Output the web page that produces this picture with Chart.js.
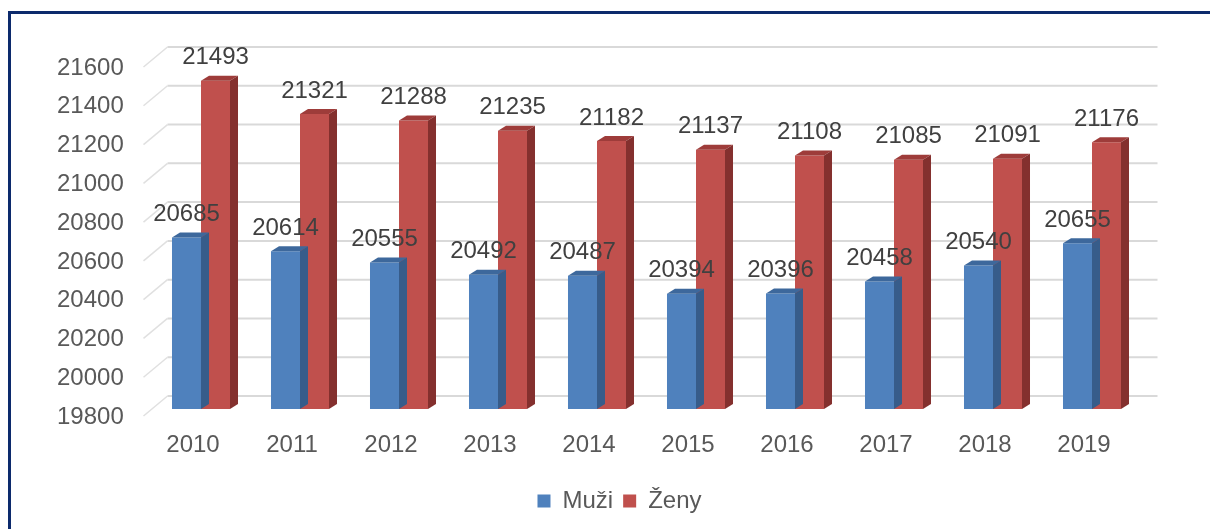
<!DOCTYPE html>
<html>
<head>
<meta charset="utf-8">
<title>Muži a ženy 2010-2019</title>
<script src="https://cdn.jsdelivr.net/npm/chart.js@4.4.1/dist/chart.umd.min.js"></script>
<style>
  body { margin: 0; background: #fff; }
  #wrap { position: relative; width: 1210px; height: 529px; overflow: hidden; }
  #frame {
    position: absolute; left: 8px; top: 11px; width: 1300px; height: 600px;
    border-left: 3px solid #0c2a6c; border-top: 3px solid #0c2a6c;
    pointer-events: none;
  }
  canvas { position: absolute; left: 0; top: 0; }
</style>
</head>
<body>
<div id="wrap">
  <canvas id="chart" width="1210" height="529"></canvas>
  <div id="frame"></div>
</div>
<script>
// data
const years = ['2010', '2011', '2012', '2013', '2014', '2015', '2016', '2017', '2018', '2019'];
const muzi = [20685, 20614, 20555, 20492, 20487, 20394, 20396, 20458, 20540, 20655];
const zeny = [21493, 21321, 21288, 21235, 21182, 21137, 21108, 21085, 21091, 21176];
const yTicks = [19800, 20000, 20200, 20400, 20600, 20800, 21000, 21200, 21400, 21600];

const FONT = 'Liberation Sans, Arial, sans-serif';

// fake 3d depth of a bar and of the back wall
const DX = 8, DY = -5;
const WALL_DX = 16, WALL_DY = -13;
const FRONT_DX = -8, FRONT_DY = 7;

const faces = [
    { front: '#4f81bd', top: '#3d689c', side: '#375c8a' },
    { front: '#c0504d', top: '#9e3c3a', side: '#84302e' }
];

function poly(ctx, pts, color) {
    ctx.beginPath();
    ctx.moveTo(pts[0][0], pts[0][1]);
    for (let i = 1; i < pts.length; i++) ctx.lineTo(pts[i][0], pts[i][1]);
    ctx.closePath();
    ctx.fillStyle = color;
    ctx.fill();
}

const bar3d = {
    id: 'bar3d',
    beforeDatasetsDraw(chart) {
        const ctx = chart.ctx;
        const area = chart.chartArea;
        const y = chart.scales.y;
        ctx.save();
        yTicks.forEach(v => {
            const py = y.getPixelForValue(v);
            // back wall line
            ctx.strokeStyle = '#d9d9d9';
            ctx.lineWidth = 2;
            ctx.beginPath();
            ctx.moveTo(area.left + WALL_DX, py + WALL_DY);
            ctx.lineTo(area.right + WALL_DX, py + WALL_DY);
            ctx.stroke();
            // side wall line
            ctx.strokeStyle = '#e0e0e0';
            ctx.lineWidth = 1.5;
            ctx.beginPath();
            ctx.moveTo(area.left + FRONT_DX, py + FRONT_DY);
            ctx.lineTo(area.left + WALL_DX, py + WALL_DY);
            ctx.stroke();
        });
        ctx.restore();
    },
    afterDatasetDraw(chart, args) {
        const ctx = chart.ctx;
        const f = faces[args.index];
        const bottom = chart.chartArea.bottom;
        ctx.save();
        args.meta.data.forEach(bar => {
            const p = bar.getProps(['x', 'y', 'width'], true);
            const l = p.x - p.width / 2, r = p.x + p.width / 2;
            poly(ctx, [[l, p.y], [l + DX, p.y + DY], [r + DX, p.y + DY], [r, p.y]], f.top);
            poly(ctx, [[r, p.y], [r + DX, p.y + DY], [r + DX, bottom + DY], [r, bottom]], f.side);
        });
        ctx.restore();
    },
    afterDatasetsDraw(chart) {
        // value labels above the bars
        const ctx = chart.ctx;
        ctx.save();
        ctx.font = '24px ' + FONT;
        ctx.fillStyle = '#404040';
        ctx.textAlign = 'center';
        ctx.textBaseline = 'middle';
        chart.data.datasets.forEach((ds, i) => {
            chart.getDatasetMeta(i).data.forEach((bar, j) => {
                ctx.fillText(ds.data[j], bar.x, bar.y - 23);
            });
        });
        ctx.restore();
    }
};

new Chart(document.getElementById('chart'), {
    type: 'bar',
    data: {
        labels: years,
        datasets: [
            { label: 'Muži', data: muzi, backgroundColor: faces[0].front },
            { label: 'Ženy', data: zeny, backgroundColor: faces[1].front }
        ]
    },
    options: {
        responsive: false,
        animation: false,
        layout: { padding: { left: 97.5, right: 68.5, top: 60, bottom: 6 } },
        categoryPercentage: 0.586,
        barPercentage: 1,
        scales: {
            x: {
                grid: { display: false },
                border: { display: false },
                ticks: { color: '#595959', font: { size: 24, family: FONT }, padding: 14, labelOffset: -8 },
                afterFit(scale) { scale.height = 70; }
            },
            y: {
                min: 19800,
                max: 21600,
                grid: { display: false, drawTicks: false },
                border: { display: false },
                // mirrored so the labels are not clipped to the narrow axis box
                ticks: {
                    stepSize: 200, color: '#595959', font: { size: 24, family: FONT },
                    mirror: true, padding: -94.5, labelOffset: 8,
                    callback: v => String(v)
                },
                afterFit(scale) { scale.width = 54; }
            }
        },
        plugins: {
            legend: {
                position: 'bottom',
                labels: { color: '#595959', font: { size: 24, family: FONT }, boxWidth: 13, boxHeight: 13, padding: 10 }
            },
            tooltip: { enabled: false }
        }
    },
    plugins: [bar3d]
});
</script>
</body>
</html>
